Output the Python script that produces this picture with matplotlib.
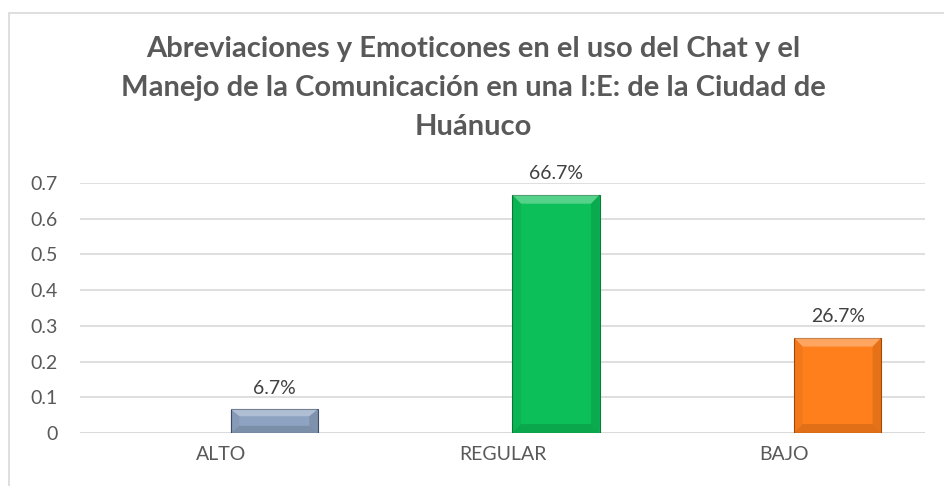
import matplotlib
matplotlib.use("Agg")
import matplotlib.pyplot as plt
from matplotlib.patches import Polygon, Rectangle

categorias = ["ALTO", "REGULAR", "BAJO"]
valores = [0.067, 0.667, 0.267]
etiquetas = ["6.7%", "66.7%", "26.7%"]
colores = ["#8DA3C1", "#0CBF58", "#FF7F1C"]
bordes = ["#3E4F66", "#0A7A3A", "#A84C05"]
yticks = [0, 0.1, 0.2, 0.3, 0.4, 0.5, 0.6, 0.7]

plt.rcParams['font.family'] = ['Lato', 'DejaVu Sans']

fig = plt.figure(figsize=(9.44, 4.86), dpi=100)
fig.patches.append(Rectangle((9 / 944, -0.1), 1.2, 1 - 13 / 486 + 0.1,
                             transform=fig.transFigure, fill=False,
                             edgecolor="#D9D9D9", linewidth=1.2))

ax = fig.add_axes([80 / 944, 1 - 433 / 486, 845 / 944, 250 / 486])
x = list(range(len(categorias)))
# la serie va desplazada a la derecha de cada categoria (como en Excel)
xb = [xi + 0.19 for xi in x]
barras = ax.bar(xb, valores, width=0.31, color=colores, edgecolor=bordes,
                linewidth=0.8, zorder=3)

# bisel sencillo en cada barra
for b in barras:
    x0, y0 = b.get_x(), b.get_y()
    w, h = b.get_width(), b.get_height()
    dx = w * 0.1
    dy = min(h * 0.3, 0.025)
    ax.add_patch(Polygon([(x0, y0 + h), (x0 + w, y0 + h), (x0 + w - dx, y0 + h - dy),
                          (x0 + dx, y0 + h - dy)], closed=True, facecolor="white",
                         alpha=0.3, edgecolor="none", zorder=4))
    ax.add_patch(Polygon([(x0, y0), (x0 + w, y0), (x0 + w - dx, y0 + dy),
                          (x0 + dx, y0 + dy)], closed=True, facecolor="black",
                         alpha=0.12, edgecolor="none", zorder=4))
    ax.add_patch(Polygon([(x0, y0), (x0, y0 + h), (x0 + dx, y0 + h - dy),
                          (x0 + dx, y0 + dy)], closed=True, facecolor="black",
                         alpha=0.05, edgecolor="none", zorder=4))
    ax.add_patch(Polygon([(x0 + w, y0), (x0 + w, y0 + h), (x0 + w - dx, y0 + h - dy),
                          (x0 + w - dx, y0 + dy)], closed=True, facecolor="black",
                         alpha=0.1, edgecolor="none", zorder=4))

for xi, v, t in zip(xb, valores, etiquetas):
    ax.annotate(t, (xi, v), xytext=(0, 9), textcoords="offset points",
                ha="center", va="bottom", fontsize=14, color="#404040")

ax.set_xlim(-0.5, 2.5)
ax.set_ylim(0, 0.7)
ax.set_yticks(yticks)
ax.set_yticklabels(["0" if v == 0 else f"{v:.1f}" for v in yticks])
ax.set_xticks(x)
ax.set_xticklabels(categorias)
ax.tick_params(axis="both", length=0, labelsize=14, labelcolor="#595959")
ax.tick_params(axis="y", pad=16)
ax.tick_params(axis="x", pad=9)
ax.yaxis.grid(True, color="#D9D9D9", linewidth=1.2, zorder=0)
for s in ax.spines.values():
    s.set_visible(False)
ax.axhline(0, color="#D9D9D9", linewidth=1.2, zorder=1)

fig.text(473 / 944, 1 - 88 / 486,
         "Abreviaciones y Emoticones en el uso del Chat y el\n"
         "Manejo de la Comunicación en una I:E: de la Ciudad de\n"
         "Huánuco",
         ha="center", va="center", fontsize=21, fontweight="bold",
         color="#595959", linespacing=1.6)

fig.savefig("out.png", dpi=100)
